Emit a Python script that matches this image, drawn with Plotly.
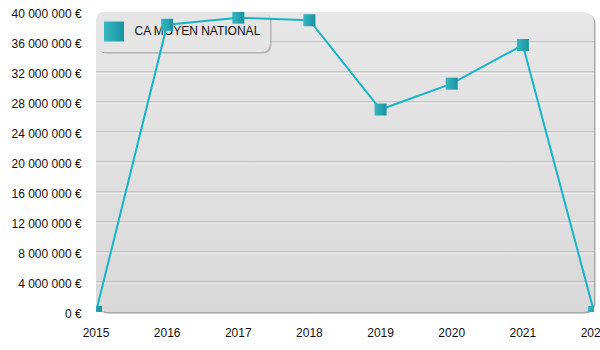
import base64
import plotly.graph_objects as go

# Chiffre d'affaires moyen national par année
years = [2015, 2016, 2017, 2018, 2019, 2020, 2021, 2022]
ca_moyen = [0, 38_300_000, 39_250_000, 38_900_000, 27_000_000, 30_450_000, 35_600_000, 0]
series_name = "CA MOYEN NATIONAL"

y_ticks = list(range(0, 40_000_001, 4_000_000))
y_ticktext = [f"{v:,}".replace(",", " ") + " €" for v in y_ticks]

W, H = 600, 350
ML, MR, MT, MB = 96, 6, 12, 38
PW, PH = W - ML - MR, H - MT - MB
X_RANGE = [years[0], years[-1]]
Y_RANGE = [0, 40_000_000]

LINE_COLOR = "#17b5c7"
MARK_LIGHT = "#36b7c1"
MARK_DARK = "#1893a1"
FONT = "Arial, Liberation Sans, sans-serif"


def px_to_paper(px, py):
    return (px - ML) / PW, (MT + PH - py) / PH


def px_to_data(px, py):
    fx, fy = px_to_paper(px, py)
    return (X_RANGE[0] + fx * (X_RANGE[1] - X_RANGE[0]),
            Y_RANGE[0] + fy * (Y_RANGE[1] - Y_RANGE[0]))


def rounded_rect(x0, y0, x1, y1, r):
    """SVG path (paper coords) of a rounded rectangle given in pixels."""
    def p(x, y):
        fx, fy = px_to_paper(x, y)
        return f"{fx:.5f},{fy:.5f}"

    pts = [
        f"M{p(x0 + r, y0)}",
        f"L{p(x1 - r, y0)}",
        f"Q{p(x1, y0)} {p(x1, y0 + r)}",
        f"L{p(x1, y1 - r)}",
        f"Q{p(x1, y1)} {p(x1 - r, y1)}",
        f"L{p(x0 + r, y1)}",
        f"Q{p(x0, y1)} {p(x0, y1 - r)}",
        f"L{p(x0, y0 + r)}",
        f"Q{p(x0, y0)} {p(x0 + r, y0)}",
    ]
    return " ".join(pts) + " Z"


# Rounded, gradient-filled plotting panel with a soft bottom/right edge
panel_svg = f"""<svg xmlns="http://www.w3.org/2000/svg" width="{PW + 2}" height="{PH + 2}" viewBox="0 0 {PW + 2} {PH + 2}" preserveAspectRatio="none">
<defs><linearGradient id="g" x1="0" y1="0" x2="0" y2="1">
<stop offset="0" stop-color="#e7e7e7"/><stop offset="1" stop-color="#d9d9d9"/></linearGradient></defs>
<rect x="1.5" y="1.5" width="{PW}" height="{PH}" rx="10" ry="10" fill="#a8a8a8"/>
<rect x="0" y="0" width="{PW}" height="{PH}" rx="10" ry="10" fill="url(#g)"/>
</svg>"""
panel_uri = "data:image/svg+xml;base64," + base64.b64encode(panel_svg.encode()).decode()

shapes = []
# Embossed horizontal gridlines (grey line with a white highlight beneath)
for v in y_ticks[1:-1]:
    shapes.append(dict(type="line", xref="paper", x0=0, x1=1, yref="y", y0=v, y1=v,
                       line=dict(color="#a9a9a9", width=1), layer="below"))
    shapes.append(dict(type="line", xref="paper", x0=0, x1=1, yref="y",
                       ysizemode="pixel", yanchor=v, y0=-1, y1=-1,
                       line=dict(color="#f6f6f6", width=1), layer="below"))

# Legend box with its shadow
LX0, LY0, LX1, LY1 = 96, 12, 270, 52
shapes.append(dict(type="path", xref="paper", yref="paper",
                   path=rounded_rect(LX0 + 1.5, LY0 + 1.5, LX1 + 1.5, LY1 + 1.5, 9),
                   fillcolor="#b4b4b4", line=dict(width=0), layer="below"))
shapes.append(dict(type="path", xref="paper", yref="paper",
                   path=rounded_rect(LX0, LY0, LX1, LY1, 9),
                   fillcolor="#e5e5e5", line=dict(width=0), layer="below"))

fig = go.Figure()

marker_style = dict(symbol="square", color=MARK_LIGHT,
                    gradient=dict(type="horizontal", color=MARK_DARK),
                    line=dict(width=0))

# Legend swatch and label, drawn beneath the data line
sx, sy = px_to_data(114, 31.5)
fig.add_trace(go.Scatter(
    x=[sx], y=[sy], mode="markers", showlegend=False, hoverinfo="skip",
    marker=dict(size=20, **marker_style),
))
tx, ty = px_to_data(134.5, 32)
fig.add_trace(go.Scatter(
    x=[tx], y=[ty], mode="text", text=[series_name], textposition="middle right",
    showlegend=False, hoverinfo="skip",
    textfont=dict(family=FONT, size=12, color="#111111"),
))

fig.add_trace(go.Scatter(
    x=years, y=ca_moyen, name=series_name, mode="lines+markers",
    line=dict(color=LINE_COLOR, width=2),
    marker=dict(size=12, **marker_style),
    showlegend=False,
))

fig.update_layout(
    width=W, height=H,
    margin=dict(l=ML, r=MR, t=MT, b=MB, pad=0, autoexpand=False),
    paper_bgcolor="white", plot_bgcolor="rgba(0,0,0,0)",
    font=dict(family=FONT, size=12, color="#111111"),
    showlegend=False,
    images=[dict(source=panel_uri, xref="paper", yref="paper", x=0, y=1,
                 sizex=(PW + 2) / PW, sizey=(PH + 2) / PH,
                 xanchor="left", yanchor="top", sizing="stretch", layer="below")],
    shapes=shapes,
    xaxis=dict(range=X_RANGE, tickvals=years, ticktext=[str(y) for y in years],
               showgrid=False, zeroline=False, showline=False, automargin=False,
               ticks="outside", ticklen=10, tickcolor="rgba(0,0,0,0)",
               ticklabeloverflow="allow"),
    yaxis=dict(range=Y_RANGE, tickvals=y_ticks, ticktext=y_ticktext,
               showgrid=False, zeroline=False, showline=False, automargin=False,
               ticks="outside", ticklen=11, tickcolor="rgba(0,0,0,0)",
               ticklabelshift=2),
)

fig.write_html("out.html")
